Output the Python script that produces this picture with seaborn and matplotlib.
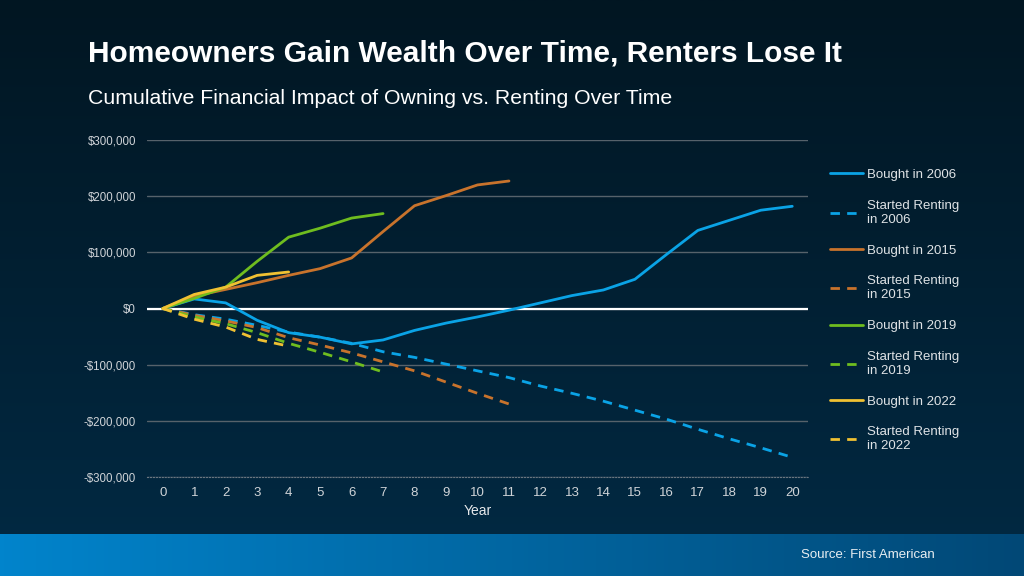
import numpy as np
import pandas as pd
import matplotlib
matplotlib.use("Agg")
import matplotlib.pyplot as plt
import seaborn as sns

# values (in dollars)
bought_2006 = [0, 17000, 10000, -21000, -43000, -51000, -63000, -56000, -39000, -26000,
               -15000, -3000, 10000, 23000, 33000, 52000, 96000, 139000, 157000, 175000, 182000]
rent_2006 = [0, -11000, -19000, -30000, -42000, -51000, -62000, -77000, -87000, -99000,
             -111000, -123000, -138000, -151000, -165000, -181000, -197000, -215000, -232000,
             -248000, -265000]
bought_2015 = [0, 22000, 34000, 46000, 59000, 71000, 90000, 137000, 183000, 201000, 220000, 227000]
rent_2015 = [0, -12000, -22000, -34000, -52000, -65000, -79000, -95000, -111000, -131000,
             -151000, -170000]
bought_2019 = [0, 18000, 38000, 84000, 127000, 143000, 161000, 169000]
rent_2019 = [0, -15000, -27000, -43000, -62000, -78000, -95000, -113000]
bought_2022 = [0, 25000, 38000, 59000, 65000]
rent_2022 = [0, -19000, -33000, -55000, -67000]

series_names = ["Bought in 2006", "Started Renting\nin 2006",
                "Bought in 2015", "Started Renting\nin 2015",
                "Bought in 2019", "Started Renting\nin 2019",
                "Bought in 2022", "Started Renting\nin 2022"]
series_values = [bought_2006, rent_2006, bought_2015, rent_2015,
                 bought_2019, rent_2019, bought_2022, rent_2022]
year_ticks = list(range(0, 21))
y_ticks = [-300000, -200000, -100000, 0, 100000, 200000, 300000]
y_labels = ["-$300,000", "-$200,000", "-$100,000", "$0", "$100,000", "$200,000", "$300,000"]

rows = []
for name, vals in zip(series_names, series_values):
    for yr, v in enumerate(vals):
        rows.append({"Year": yr, "Value": v, "Series": name})
df = pd.DataFrame(rows)

blue = "#0aa3e6"
orange = "#c8732c"
green = "#6fbd1f"
yellow = "#f0c132"
palette = dict(zip(series_names, [blue, blue, orange, orange, green, green, yellow, yellow]))
dashes = {n: ("" if n.startswith("Bought") else (3.4, 2.6)) for n in series_names}

sns.set_style("dark")
plt.rcParams["font.family"] = ["Liberation Sans", "DejaVu Sans"]

fig = plt.figure(figsize=(10.24, 5.76), dpi=100)

# background gradient
bg = fig.add_axes([0, 0, 1, 1], zorder=-10)
grad = np.linspace(0, 1, 256).reshape(-1, 1)
top_c = np.array([0x01, 0x16, 0x22]) / 255
bot_c = np.array([0x02, 0x2a, 0x44]) / 255
img = top_c + (bot_c - top_c) * grad[:, :, None]
bg.imshow(img, aspect="auto", extent=[0, 1, 0, 1], origin="upper")
# footer band
fx = np.linspace(0, 1, 256).reshape(1, -1)
left_c = np.array([0x01, 0x84, 0xcc]) / 255
right_c = np.array([0x01, 0x48, 0x76]) / 255
band = left_c + (right_c - left_c) * fx[:, :, None]
bg.imshow(band, aspect="auto", extent=[0, 1, 0, 42 / 576], origin="upper")
bg.set_xlim(0, 1)
bg.set_ylim(0, 1)
bg.axis("off")

ax = fig.add_axes([147 / 1024, 1 - 477 / 576, 661 / 1024, 337 / 576])
ax.set_facecolor("none")

sns.lineplot(data=df, x="Year", y="Value", hue="Series", style="Series",
             palette=palette, dashes=dashes, linewidth=2.0, ax=ax,
             hue_order=series_names, style_order=series_names, zorder=3)

ax.set_xlim(-0.5, 20.5)
ax.set_ylim(-300000, 300000)
ax.set_yticks(y_ticks)
ax.set_yticklabels(y_labels)
ax.set_xticks(year_ticks)
ax.tick_params(axis="y", colors="#d0d4d8", labelsize=8.3, length=0, pad=8)
ax.tick_params(axis="x", colors="#d0d4d8", labelsize=9.5, length=0, pad=7)
ax.grid(axis="y", color="#56626b", linewidth=1, zorder=1)
ax.grid(axis="x", visible=False)
ax.axhline(0, color="white", linewidth=1.6, zorder=2)
for s in ["top", "left", "right"]:
    ax.spines[s].set_visible(False)
ax.spines["bottom"].set_color("#6a7680")
ax.spines["bottom"].set_linestyle(":")
ax.set_xlabel("Year", color="#e6e8ea", fontsize=10, labelpad=4)
ax.set_ylabel("")

handles, labels = ax.get_legend_handles_labels()
leg = ax.legend(handles, labels, loc="upper left",
                bbox_to_anchor=(818 / 1024, 1 - 157 / 576),
                bbox_transform=fig.transFigure, frameon=False, fontsize=9.5,
                labelcolor="#dfe3e6", handlelength=2.5, handletextpad=0.3,
                labelspacing=1.42)

fig.text(88 / 1024, 1 - 53 / 576, "Homeowners Gain Wealth Over Time, Renters Lose It",
         color="white", fontsize=21.5, fontweight="bold", va="center", ha="left")
fig.text(88 / 1024, 1 - 98 / 576, "Cumulative Financial Impact of Owning vs. Renting Over Time",
         color="white", fontsize=15.3, va="center", ha="left")
fig.text(935 / 1024, 1 - 555 / 576, "Source: First American",
         color="#e8eef2", fontsize=9.5, va="center", ha="right")

fig.savefig("out.png", dpi=100)
